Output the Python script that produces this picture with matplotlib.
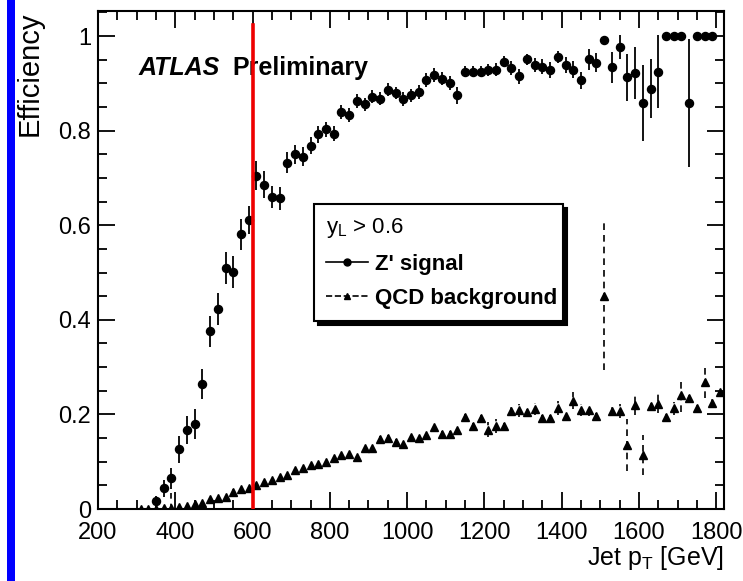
import numpy as np
import matplotlib.pyplot as plt
from matplotlib.lines import Line2D
from matplotlib.patches import Rectangle
from matplotlib.ticker import MultipleLocator

plt.rcParams['font.family'] = ['Liberation Sans', 'DejaVu Sans']

# Z' signal, 20 GeV bins (bin centres)
sig_pt = np.arange(350, 1791, 20)
sig_eff = [0.018, 0.044, 0.065, 0.126, 0.167, 0.180, 0.264, 0.376, 0.423, 0.510,
           0.502, 0.581, 0.611, 0.705, 0.686, 0.660, 0.657, 0.732, 0.750, 0.745,
           0.768, 0.792, 0.803, 0.794, 0.840, 0.833, 0.863, 0.856, 0.872, 0.868,
           0.887, 0.879, 0.867, 0.875, 0.882, 0.907, 0.918, 0.910, 0.901, 0.875,
           0.925, 0.925, 0.925, 0.928, 0.929, 0.946, 0.932, 0.915, 0.951, 0.939,
           0.935, 0.928, 0.956, 0.939, 0.929, 0.907, 0.951, 0.944, 0.992, 0.934,
           0.977, 0.913, 0.922, 0.858, 0.889, 0.925, 1.000, 1.000, 1.000, 0.858,
           1.000, 1.000, 1.000]
sig_err = [0.010, 0.018, 0.022, 0.028, 0.030, 0.032, 0.032, 0.033, 0.033, 0.034,
           0.034, 0.033, 0.030, 0.030, 0.028, 0.024, 0.024, 0.022, 0.020, 0.020,
           0.018, 0.018, 0.016, 0.016, 0.015, 0.015, 0.014, 0.014, 0.013, 0.013,
           0.013, 0.013, 0.014, 0.014, 0.014, 0.014, 0.014, 0.014, 0.015, 0.018,
           0.012, 0.012, 0.012, 0.013, 0.014, 0.012, 0.015, 0.016, 0.012, 0.014,
           0.016, 0.017, 0.012, 0.017, 0.018, 0.018, 0.022, 0.020, 0.008, 0.033,
           0.026, 0.050, 0.056, 0.080, 0.063, 0.078, 0.000, 0.000, 0.000, 0.135,
           0.000, 0.000, 0.000]

# QCD background
bkg_pt = np.arange(310, 1811, 20)
bkg_eff = [0.000, 0.000, 0.001, 0.002, 0.003, 0.005, 0.007, 0.010, 0.013, 0.022,
           0.023, 0.025, 0.036, 0.043, 0.045, 0.051, 0.057, 0.061, 0.067, 0.072,
           0.082, 0.087, 0.093, 0.095, 0.100, 0.107, 0.114, 0.116, 0.109, 0.128,
           0.128, 0.149, 0.151, 0.142, 0.137, 0.152, 0.150, 0.156, 0.173, 0.159,
           0.159, 0.167, 0.195, 0.175, 0.193, 0.168, 0.175, 0.175, 0.208, 0.209,
           0.206, 0.211, 0.192, 0.192, 0.213, 0.197, 0.229, 0.209, 0.209, 0.197,
           0.450, 0.208, 0.208, 0.135, 0.220, 0.114, 0.218, 0.223, 0.194, 0.213,
           0.241, 0.234, 0.213, 0.269, 0.225, 0.248]
bkg_err = [0.002, 0.002, 0.002, 0.002, 0.030, 0.003, 0.003, 0.003, 0.003, 0.004,
           0.004, 0.004, 0.008, 0.004, 0.004, 0.004, 0.004, 0.004, 0.004, 0.004,
           0.004, 0.004, 0.004, 0.004, 0.004, 0.004, 0.004, 0.004, 0.004, 0.004,
           0.005, 0.005, 0.005, 0.005, 0.005, 0.005, 0.005, 0.005, 0.005, 0.005,
           0.005, 0.005, 0.006, 0.006, 0.006, 0.015, 0.015, 0.006, 0.008, 0.014,
           0.010, 0.013, 0.006, 0.006, 0.015, 0.010, 0.018, 0.013, 0.012, 0.006,
           0.155, 0.008, 0.015, 0.055, 0.022, 0.042, 0.008, 0.020, 0.008, 0.014,
           0.035, 0.008, 0.008, 0.035, 0.008, 0.012]

cut_pt = 600

fig = plt.figure(figsize=(7.43, 5.81), dpi=100)
ax = fig.add_axes([0.1319, 0.1239, 0.8425, 0.8571])

# blue bar at the left edge of the slide
fig.add_artist(Rectangle((7 / 743, 0), 8 / 743, 1, transform=fig.transFigure,
                         color='#0000ff', lw=0))

ax.errorbar(sig_pt, sig_eff, yerr=sig_err, fmt='o', color='black', ms=5.8,
            elinewidth=1.3, capsize=0)
eb = ax.errorbar(bkg_pt, bkg_eff, yerr=bkg_err, fmt='^', color='black', ms=5.5,
                 elinewidth=1.2, capsize=0)
eb[2][0].set_linestyle((0, (4, 3)))

ax.plot([cut_pt, cut_pt], [0, 1.023], color='#ee0000', lw=2.6, zorder=5)

ax.set_xlim(200, 1820)
ax.set_ylim(0, 1.053)
ax.xaxis.set_major_locator(MultipleLocator(200))
ax.xaxis.set_minor_locator(MultipleLocator(50))
ax.yaxis.set_major_locator(MultipleLocator(0.2))
ax.yaxis.set_minor_locator(MultipleLocator(0.05))
ax.set_yticks([0, 0.2, 0.4, 0.6, 0.8, 1.0], ['0', '0.2', '0.4', '0.6', '0.8', '1'])
ax.tick_params(which='both', direction='in', top=True, right=True,
               labelsize=17, width=1.3)
ax.tick_params(which='major', length=12)
ax.tick_params(which='minor', length=6.5)
ax.tick_params(axis='x', pad=9)
ax.tick_params(axis='y', pad=5)
for s in ax.spines.values():
    s.set_linewidth(1.5)

ax.text(1.0, -0.113, r'Jet $\mathregular{p_T}$ [GeV]', transform=ax.transAxes,
        ha='right', va='baseline', fontsize=18)
ax.text(-0.109, 1.0, 'Efficiency', transform=ax.transAxes, rotation=90,
        ha='center', va='top', fontsize=21)

ax.text(0.064, 0.885, 'ATLAS', transform=ax.transAxes, fontsize=18,
        fontweight='bold', fontstyle='italic', va='center')
ax.text(0.214, 0.885, 'Preliminary', transform=ax.transAxes, fontsize=18,
        fontweight='bold', va='center')

handles = [Line2D([], [], color='black', marker='o', ms=5, lw=1.2),
           Line2D([], [], color='black', marker='^', ms=4.5, lw=1.2, ls='--')]
leg = ax.legend(handles, ["Z' signal", 'QCD background'],
                title=r'$\mathregular{y_L}$ > 0.6', loc='upper left',
                bbox_to_anchor=(0.345, 0.3735, 0.398, 0.2389), mode='expand',
                prop={'size': 16, 'weight': 'bold'}, title_fontproperties={'size': 16},
                alignment='left', fancybox=False, framealpha=1, edgecolor='black',
                borderpad=0.55, handlelength=1.9, handletextpad=0.3, labelspacing=0.6,
                borderaxespad=0, shadow={'color': 'black', 'alpha': 1, 'ox': 3, 'oy': -3})
leg.get_frame().set_linewidth(1.5)

fig.savefig('out.png', dpi=100)
